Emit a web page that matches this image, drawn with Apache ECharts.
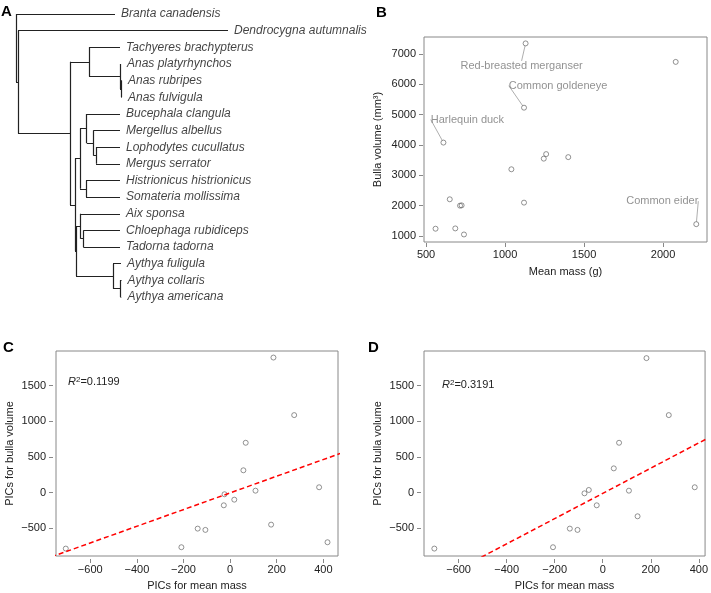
<!DOCTYPE html>
<html>
<head>
<meta charset="utf-8">
<script src="https://cdn.jsdelivr.net/npm/echarts@6/dist/echarts.min.js"></script>
<style>
  html, body { margin: 0; padding: 0; background: #fff; }
  #main { width: 711px; height: 593px; }
</style>
</head>
<body>
<div id="main"></div>
<script>
// ---- panel A: phylogeny ----
const tipNames = ['Branta canadensis', 'Dendrocygna autumnalis', 'Tachyeres brachypterus',
  'Anas platyrhynchos', 'Anas rubripes', 'Anas fulvigula', 'Bucephala clangula',
  'Mergellus albellus', 'Lophodytes cucullatus', 'Mergus serrator', 'Histrionicus histrionicus',
  'Somateria mollissima', 'Aix sponsa', 'Chloephaga rubidiceps', 'Tadorna tadorna',
  'Aythya fuligula', 'Aythya collaris', 'Aythya americana']
// distance of each tip from the root (tree units)
const tipDepths = [99, 212, 104, 105, 106, 106, 104, 104, 104, 104, 104, 104, 104, 104, 104, 105, 105.5, 105.5]
// topology: d = node depth, c = children, t = tip index
const tree = { d: 0, c: [{ t: 0 }, { d: 2, c: [{ t: 1 }, { d: 54, c: [
  { d: 73, c: [{ t: 2 }, { d: 104, c: [{ t: 3 }, { d: 105.5, c: [{ t: 4 }, { t: 5 }] }] }] },
  { d: 59, c: [
    { d: 64, c: [
      { d: 70.7, c: [{ t: 6 }, { d: 77.3, c: [{ t: 7 }, { d: 80, c: [{ t: 8 }, { t: 9 }] }] }] },
      { d: 70, c: [{ t: 10 }, { t: 11 }] }] },
    { d: 60, c: [
      { d: 64.7, c: [{ t: 12 }, { d: 67.3, c: [{ t: 13 }, { t: 14 }] }] },
      { d: 97, c: [{ t: 15 }, { d: 104, c: [{ t: 16 }, { t: 17 }] }] }] }] }] }] }] }

// ---- panel B: raw values ----
const massB = [1130, 2080, 1120, 610, 1260, 1245, 1400, 1040, 650, 725, 715, 1120, 560, 685, 740, 2210]
const volumeB = [7350, 6740, 5230, 4080, 3700, 3550, 3600, 3200, 2210, 2010, 2000, 2100, 1240, 1250, 1050, 1390]
const namesB = ['Red-breasted merganser', '', 'Common goldeneye', 'Harlequin duck', '', '', '', '',
  '', '', '', '', '', '', '', 'Common eider']
const ticksMassB = [500, 1000, 1500, 2000]
const ticksVolB = [1000, 2000, 3000, 4000, 5000, 6000, 7000]

// ---- panel C: PICs ----
const picMassC = [186, 275, 67, 57, -24, -27, 18, 109, 382, -139, -106, 176, 418, -209, -705]
const picVolC = [1895, 1088, 700, 314, -22, -177, -98, 28, 76, -504, -522, -448, -695, -765, -784]
const slopeC = 1.17
const interceptC = -3
const r2C = '0.1199'

// ---- panel D: PICs ----
const picMassD = [182, 275, 68, 46, -58, -76, -25, 109, 383, -137, -105, 145, -207, -701]
const picVolD = [1887, 1088, 700, 341, 38, -9, -177, 28, 76, -504, -522, -331, -765, -784]
const slopeD = 1.77
const interceptD = -10
const r2D = '0.3191'

const ticksPicX = [-600, -400, -200, 0, 200, 400]
const ticksPicY = [-500, 0, 500, 1000, 1500]

const FONT = 'Liberation Sans, Arial, Helvetica, sans-serif'

// build tree segments from the topology
const segments = []
function layout (node) {
  if (node.t !== undefined) return { y: node.t, x: tipDepths[node.t] }
  const kids = node.c.map(layout)
  kids.forEach(k => segments.push([[node.d, k.y], [k.x, k.y]]))
  const ys = kids.map(k => k.y)
  segments.push([[node.d, Math.min(...ys)], [node.d, Math.max(...ys)]])
  return { y: (ys[0] + ys[ys.length - 1]) / 2, x: node.d }
}
layout(tree)

const minus = v => (v < 0 ? '\u2212' + Math.abs(v) : String(v))

function valueAxis (gi, min, max, ticks, offset, margin, opts) {
  return Object.assign({
    type: 'value',
    gridIndex: gi,
    min,
    max,
    offset,
    splitLine: { show: false },
    axisLine: { show: false, onZero: false },
    axisTick: { show: true, length: 4, customValues: ticks, lineStyle: { color: '#888' } },
    axisLabel: { customValues: ticks, fontSize: 11, color: '#222', fontFamily: FONT, formatter: minus, margin },
    nameLocation: 'middle',
    nameTextStyle: { fontSize: 11, color: '#222', fontFamily: FONT }
  }, opts)
}

const labelOffsetB = {
  'Red-breasted merganser': [-4, 23],
  'Common goldeneye': [34, -22],
  'Harlequin duck': [24, -23],
  'Common eider': [-34, -23]
}

// open circles, thin outline
const circle = {
  symbol: 'circle',
  symbolSize: 5,
  itemStyle: { color: 'rgba(255,255,255,0)', borderColor: '#555', borderWidth: 0.8 }
}

function fitLine (slope, intercept) {
  return [[-800, -800 * slope + intercept], [500, 500 * slope + intercept]]
}

const chart = echarts.init(document.getElementById('main'), null, { renderer: 'canvas' })

const option = {
  animation: false,
  backgroundColor: '#fff',
  textStyle: { fontFamily: FONT },
  grid: [
    { left: 16, top: 14, width: 300, height: 283, show: false },
    { left: 424, top: 37, width: 283, height: 205, show: true, borderColor: '#888', borderWidth: 1 },
    { left: 56, top: 351, width: 282, height: 205, show: true, borderColor: '#888', borderWidth: 1 },
    { left: 424, top: 351, width: 283, height: 205, show: true, borderColor: '#888', borderWidth: 1 }
  ],
  xAxis: [
    { type: 'value', gridIndex: 0, min: 0, max: 300, show: false },
    valueAxis(1, 487, 2278, ticksMassB, 1, 6, { name: 'Mean mass (g)', nameGap: 23 }),
    valueAxis(2, -747, 463, ticksPicX, 3, 5, { name: 'PICs for mean mass', nameGap: 21 }),
    valueAxis(3, -744, 426, ticksPicX, 3, 5, { name: 'PICs for mean mass', nameGap: 21 })
  ],
  yAxis: [
    { type: 'value', gridIndex: 0, min: 0, max: 17, inverse: true, show: false },
    valueAxis(1, 802, 7561, ticksVolB, 1, 7, { name: 'Bulla volume (mm³)', nameGap: 40, nameRotate: 90 }),
    valueAxis(2, -888, 1987, ticksPicY, 3, 7, { name: 'PICs for bulla volume', nameGap: 38, nameRotate: 90 }),
    valueAxis(3, -888, 1987, ticksPicY, 3, 7, { name: 'PICs for bulla volume', nameGap: 38, nameRotate: 90 })
  ],
  series: [
    {
      type: 'lines',
      coordinateSystem: 'cartesian2d',
      xAxisIndex: 0,
      yAxisIndex: 0,
      silent: true,
      lineStyle: { color: '#222', width: 1.2, opacity: 1 },
      data: segments.map(s => ({ coords: s }))
    },
    {
      type: 'scatter',
      xAxisIndex: 0,
      yAxisIndex: 0,
      symbolSize: 0,
      silent: true,
      label: {
        show: true,
        position: 'right',
        distance: 6,
        formatter: p => tipNames[p.dataIndex],
        fontStyle: 'italic',
        fontSize: 12,
        color: '#111',
        fontFamily: FONT
      },
      data: tipNames.map((n, i) => [tipDepths[i], i])
    },
    Object.assign({
      type: 'scatter',
      xAxisIndex: 1,
      yAxisIndex: 1,
      label: { show: false },
      labelLine: { show: true, lineStyle: { color: '#999', width: 0.8 } },
      labelLayout: p => {
        const o = labelOffsetB[namesB[p.dataIndex]]
        return o ? { dx: o[0], dy: o[1] } : {}
      },
      data: massB.map((m, i) => ({
        value: [m, volumeB[i]],
        label: namesB[i] ? {
          show: true,
          position: 'inside',
          formatter: namesB[i],
          color: '#777',
          fontSize: 11,
          fontFamily: FONT
        } : { show: false }
      }))
    }, circle),
    Object.assign({
      type: 'scatter',
      xAxisIndex: 2,
      yAxisIndex: 2,
      data: picMassC.map((m, i) => [m, picVolC[i]])
    }, circle),
    Object.assign({
      type: 'scatter',
      xAxisIndex: 3,
      yAxisIndex: 3,
      data: picMassD.map((m, i) => [m, picVolD[i]])
    }, circle),
    {
      type: 'line',
      xAxisIndex: 2,
      yAxisIndex: 2,
      symbol: 'none',
      clip: true,
      lineStyle: { color: '#ff0000', width: 1.5, type: [5, 3] },
      data: fitLine(slopeC, interceptC)
    },
    {
      type: 'line',
      xAxisIndex: 3,
      yAxisIndex: 3,
      symbol: 'none',
      clip: true,
      lineStyle: { color: '#ff0000', width: 1.5, type: [5, 3] },
      data: fitLine(slopeD, interceptD)
    }
  ],
  graphic: [
    { type: 'text', left: 1, top: 4, style: { text: 'A', font: 'bold 15px ' + FONT, fill: '#000' } },
    { type: 'text', left: 376, top: 5, style: { text: 'B', font: 'bold 15px ' + FONT, fill: '#000' } },
    { type: 'text', left: 3, top: 340, style: { text: 'C', font: 'bold 15px ' + FONT, fill: '#000' } },
    { type: 'text', left: 368, top: 340, style: { text: 'D', font: 'bold 15px ' + FONT, fill: '#000' } },
    {
      type: 'text', left: 68, top: 376,
      style: {
        text: '{i|R}{s|2}{n|=' + r2C + '}',
        rich: {
          i: { fontStyle: 'italic', fontSize: 11, fill: '#222', fontFamily: FONT, verticalAlign: 'bottom' },
          s: { fontSize: 8, fill: '#222', fontFamily: FONT, verticalAlign: 'top' },
          n: { fontSize: 11, fill: '#222', fontFamily: FONT, verticalAlign: 'bottom' }
        }
      }
    },
    {
      type: 'text', left: 442, top: 379,
      style: {
        text: '{i|R}{s|2}{n|=' + r2D + '}',
        rich: {
          i: { fontStyle: 'italic', fontSize: 11, fill: '#222', fontFamily: FONT, verticalAlign: 'bottom' },
          s: { fontSize: 8, fill: '#222', fontFamily: FONT, verticalAlign: 'top' },
          n: { fontSize: 11, fill: '#222', fontFamily: FONT, verticalAlign: 'bottom' }
        }
      }
    }
  ]
}

chart.setOption(option)
</script>
</body>
</html>
